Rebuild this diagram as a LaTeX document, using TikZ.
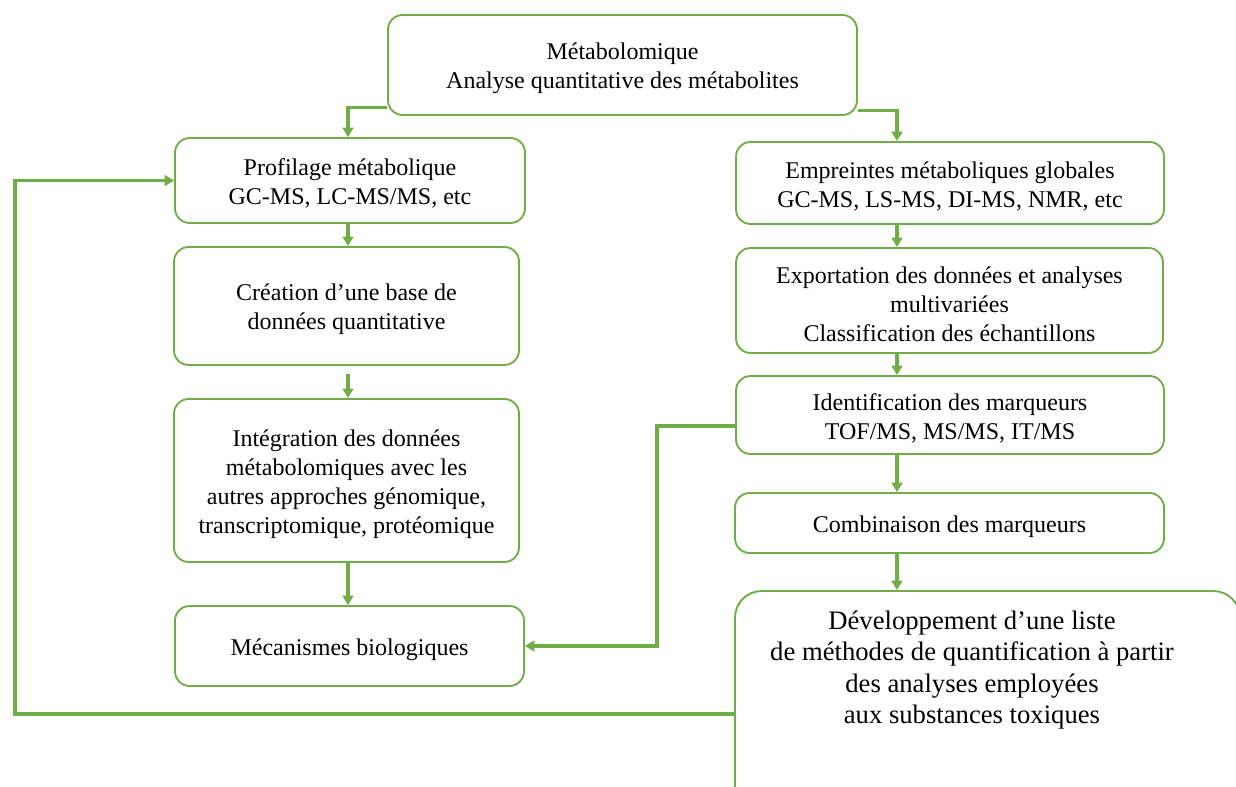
\documentclass[tikz,border=0pt]{standalone}
\usepackage{fontspec}
\setmainfont{Liberation Serif}
\usetikzlibrary{arrows.meta,calc}
\definecolor{grn}{HTML}{70AD47}
\newcommand\tup{\rule{0pt}{17.5pt}}
\begin{document}
\begin{tikzpicture}[x=0.75pt,y=-0.75pt,
  box/.style={draw=grn, line width=1.4pt, rounded corners=11pt, align=center, inner sep=0pt,
    font=\fontsize{18}{21.75}\selectfont},
  sz/.style 2 args={minimum width=#1*0.75pt, minimum height=#2*0.75pt},
  conn/.style={color=grn, line width=2.3pt, -{Triangle[width=8pt,length=7pt]}}]
\useasboundingbox (0,0) rectangle (1236,787);
\clip (0,0) rectangle (1236,787);

\node[box,sz={469}{100}] (top) at (622.5,65) {\tup Métabolomique\\Analyse quantitative des métabolites};
\node[box,sz={350}{85}] (prof) at (350,180.5) {\tup Profilage métabolique\\GC-MS, LC-MS/MS, etc};
\node[box,sz={345}{118}] (crea) at (346.5,306) {\tup Création d’une base de\\données quantitative};
\node[box,sz={345}{163}] (integ) at (346.5,480.5) {\tup Intégration des données\\métabolomiques avec les\\autres approches génomique,\\transcriptomique, protéomique};
\node[box,sz={349}{80}] (meca) at (349.5,646) {\tup Mécanismes biologiques};
\node[box,sz={428}{82}] (empr) at (950,183) {\tup Empreintes métaboliques globales\\GC-MS, LS-MS, DI-MS, NMR, etc};
\node[box,sz={427}{105}] (expo) at (949.5,300.5) {\tup Exportation des données et analyses\\multivariées\\Classification des échantillons};
\node[box,sz={428}{78}] (ident) at (950,415) {\tup Identification des marqueurs\\TOF/MS, MS/MS, IT/MS};
\node[box,sz={429}{60}] (comb) at (949.5,523) {\tup Combinaison des marqueurs};
\node[draw=grn, line width=1.4pt, rounded corners=20pt, sz={505}{230}] (dev) at (987.5,706) {};
\node[font=\fontsize{20}{23.5}\selectfont, align=center, inner sep=0pt] (devt) at (972,670)
  {Développement d’une liste\\de méthodes de quantification à partir\\des analyses employées\\aux substances toxiques};

\coordinate (lc) at (348,0);
\coordinate (rc) at (897,0);
\coordinate (fx) at (657,0);
\coordinate (fb) at (15,714);

\draw[conn] ($(top.south west)+(0,-8)$) -| (prof.north -| lc);
\draw[conn] ($(top.south east)+(0,-5)$) -| (empr.north -| rc);
\draw[conn] (prof.south -| lc) -- (crea.north -| lc);
\draw[conn, shorten <=6pt] (crea.south -| lc) -- (integ.north -| lc);
\draw[conn] (integ.south -| lc) -- (meca.north -| lc);
\draw[conn] (empr.south -| rc) -- (expo.north -| rc);
\draw[conn] (expo.south -| rc) -- (ident.north -| rc);
\draw[conn] (ident.south -| rc) -- (comb.north -| rc);
\draw[conn] (comb.south -| rc) -- (dev.north -| rc);
\draw[conn] ($(ident.west)+(0,11)$) -| (fx |- meca.east) -- (meca.east);
\draw[conn] (dev.west |- fb) -- (fb) |- (prof.west);
\end{tikzpicture}
\end{document}
